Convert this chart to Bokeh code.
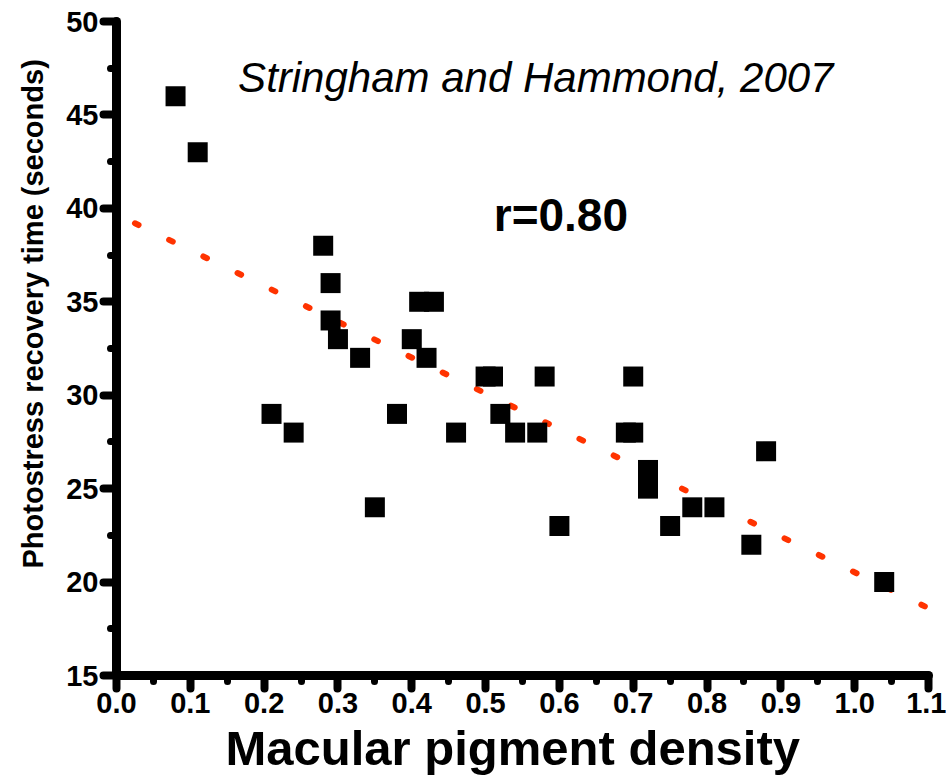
from bokeh.plotting import figure
from bokeh.models import FixedTicker, Label, Range1d, Title
from bokeh.embed import file_html
from bokeh.resources import INLINE

# ---- data ----
mp_density = [0.08, 0.11, 0.21, 0.24, 0.28, 0.29, 0.29, 0.30, 0.33, 0.35,
              0.38, 0.40, 0.41, 0.43, 0.42, 0.46, 0.50, 0.51, 0.52, 0.54,
              0.57, 0.58, 0.60, 0.69, 0.70, 0.70, 0.72, 0.72, 0.75, 0.78,
              0.81, 0.86, 0.88, 1.04]
recovery_s = [46, 43, 29, 28, 38, 36, 34, 33, 32, 24,
              29, 33, 35, 35, 32, 28, 31, 31, 29, 28,
              28, 31, 23, 28, 28, 31, 26, 25, 23, 24,
              24, 22, 27, 20]

fit_x = [0.025, 1.095]
fit_y = [39.2, 18.7]

x_ticks = [0.0, 0.1, 0.2, 0.3, 0.4, 0.5, 0.6, 0.7, 0.8, 0.9, 1.0, 1.1]
x_tick_labels = ["0.0", "0.1", "0.2", "0.3", "0.4", "0.5", "0.6", "0.7", "0.8", "0.9", "1.0", "1.1"]
x_minor = [0.05, 0.15, 0.25, 0.35, 0.45, 0.55, 0.65, 0.75, 0.85, 0.95, 1.05]
y_ticks = [15, 20, 25, 30, 35, 40, 45, 50]
y_minor = [17.5, 22.5, 27.5, 32.5, 37.5, 42.5, 47.5]

title_text = "Stringham and Hammond, 2007"
r_text = "r=0.80"
x_label = "Macular pigment density"
y_label = "Photostress recovery time (seconds)"

FONT = "Liberation Sans"

p = figure(width=946, height=783, output_backend="svg", toolbar_location=None,
           x_range=Range1d(0.0, 1.1), y_range=Range1d(15, 50),
           min_border_left=116, min_border_right=18, min_border_top=21,
           min_border_bottom=108)
p.outline_line_color = None
p.grid.visible = False
p.background_fill_color = "white"
p.border_fill_color = "white"

for ax in (p.xaxis[0], p.yaxis[0]):
    ax.axis_line_width = 9
    ax.axis_line_color = "black"
    ax.axis_line_cap = "round"
    ax.major_tick_line_width = 8
    ax.major_tick_line_cap = "round"
    ax.major_tick_line_color = "black"
    ax.minor_tick_line_width = 7
    ax.minor_tick_line_cap = "round"
    ax.minor_tick_line_color = "black"
    ax.major_tick_in = 0
    ax.major_tick_out = 13
    ax.minor_tick_in = 0
    ax.minor_tick_out = 6
    ax.major_label_text_font = FONT
    ax.major_label_text_font_style = "bold"
    ax.major_label_text_font_size = "29px"
    ax.major_label_text_color = "black"

p.xaxis[0].ticker = FixedTicker(ticks=x_ticks, minor_ticks=x_minor)
p.xaxis[0].major_label_overrides = {t: l for t, l in zip(x_ticks, x_tick_labels)}
p.xaxis[0].major_label_standoff = 4
p.yaxis[0].ticker = FixedTicker(ticks=y_ticks, minor_ticks=y_minor)
p.yaxis[0].major_label_standoff = 5

# y-axis title, left of the axis, starting above the frame bottom like the reference
p.add_layout(Title(text=y_label, align="left", offset=107, standoff=29,
                   text_font=FONT, text_font_style="bold",
                   text_font_size="29px", text_color="black"), "left")

# x-axis title, below the axis
p.add_layout(Title(text=x_label, align="left", offset=109, standoff=10,
                   vertical_align="top",
                   text_font=FONT, text_font_style="bold",
                   text_font_size="49px", text_color="black"), "below")

# regression line (dotted)
p.line(fit_x, fit_y, line_color="#ff3300", line_width=6, line_dash="4 34",
       line_cap="round")

# data points
p.scatter(mp_density, recovery_s, marker="square", size=20,
          fill_color="black", line_color="black", line_width=0)

# texts inside the plot
p.add_layout(Label(x=0.568, y=47.0, text=title_text, text_align="center",
                   text_baseline="alphabetic", text_font=FONT,
                   text_font_style="italic", text_font_size="42px",
                   text_color="black"))
p.add_layout(Label(x=0.602, y=39.67, text=r_text, text_align="center",
                   text_baseline="alphabetic", text_font=FONT,
                   text_font_style="bold", text_font_size="46px",
                   text_color="black"))

open("out.html", "w").write(file_html(p, INLINE))
